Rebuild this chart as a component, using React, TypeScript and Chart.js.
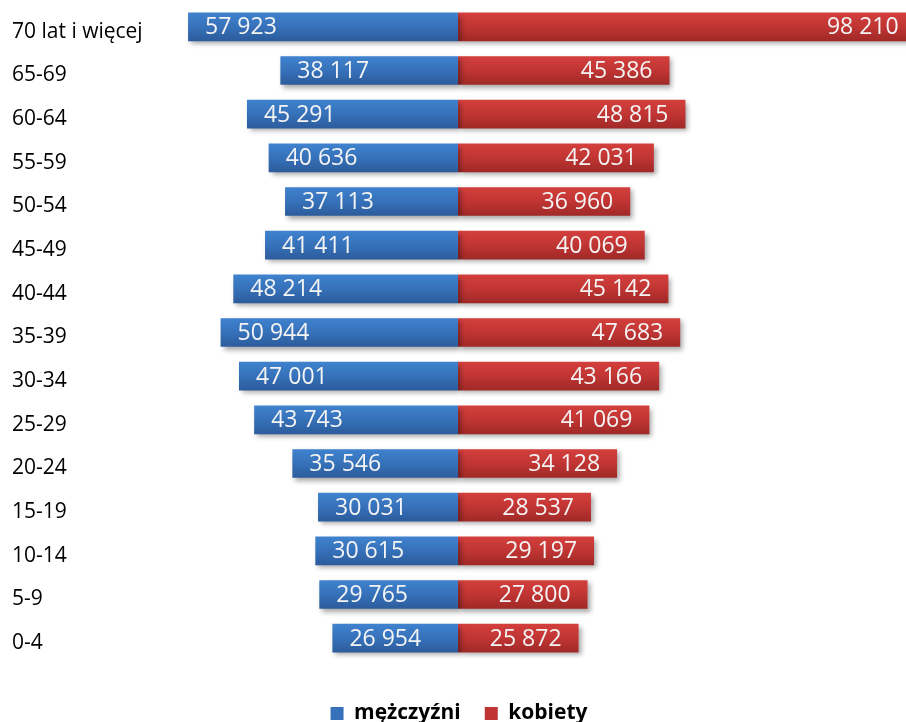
import React, { useEffect, useRef } from "react";
import { Chart, registerables } from "chart.js";

Chart.register(...registerables);

const ageGroups = [
  "70 lat i więcej", "65-69", "60-64", "55-59", "50-54", "45-49", "40-44",
  "35-39", "30-34", "25-29", "20-24", "15-19", "10-14", "5-9", "0-4",
];
const men = [57923, 38117, 45291, 40636, 37113, 41411, 48214, 50944, 47001, 43743, 35546, 30031, 30615, 29765, 26954];
const women = [98210, 45386, 48815, 42031, 36960, 40069, 45142, 47683, 43166, 41069, 34128, 28537, 29197, 27800, 25872];
const seriesNames = ["mężczyźni", "kobiety"];

const X_MIN = -66094;
const X_MAX = 96137;

const BLUE_TOP = "#3f82ce";
const BLUE_BOT = "#2c5c9c";
const RED_TOP = "#d33f3c";
const RED_BOT = "#a02927";

const fmt = (v: number) => {
  const s = String(Math.round(Math.abs(v)));
  return s.replace(/\B(?=(\d{3})+(?!\d))/g, " ");
};

const gradientFor = (top: string, bot: string, solid: string) => (c: any) => {
  const chart = c.chart;
  const y = chart.scales && chart.scales.y;
  if (!y || c.dataIndex === undefined || !chart.chartArea) return solid;
  const cy = y.getPixelForValue(c.dataIndex);
  const g = chart.ctx.createLinearGradient(0, cy - 14, 0, cy + 14);
  g.addColorStop(0, top);
  g.addColorStop(0.5, solid);
  g.addColorStop(1, bot);
  return g;
};

const barPlugin = {
  id: "barDecor",
  beforeDatasetsDraw(chart: any) {
    const ctx = chart.ctx;
    ctx.save();
    ctx.shadowColor = "rgba(0,0,0,0.35)";
    ctx.shadowBlur = 5;
    ctx.shadowOffsetX = 3;
    ctx.shadowOffsetY = 3;
  },
  afterDatasetsDraw(chart: any) {
    const ctx = chart.ctx;
    ctx.restore();
    ctx.save();
    ctx.font = '23px "Open Sans"';
    ctx.fillStyle = "#f4f4f4";
    ctx.textBaseline = "middle";
    chart.data.datasets.forEach((ds: any, di: number) => {
      const meta = chart.getDatasetMeta(di);
      meta.data.forEach((el: any, i: number) => {
        const v = ds.data[i];
        const text = fmt(v);
        if (v < 0) {
          ctx.textAlign = "left";
          ctx.fillText(text, el.x + 17, el.y + 1);
        } else {
          ctx.textAlign = "right";
          ctx.fillText(text, el.x - 17, el.y + 1);
        }
      });
    });
    ctx.restore();
  },
};

export default function App() {
  const ref = useRef<HTMLCanvasElement | null>(null);
  useEffect(() => {
    if (!ref.current) return;
    const chart = new Chart(ref.current, {
      type: "bar",
      data: {
        labels: ageGroups,
        datasets: [
          {
            label: seriesNames[0],
            data: men.map((v) => -v),
            backgroundColor: gradientFor(BLUE_TOP, BLUE_BOT, "#3671b9"),
            borderWidth: 0,
            barPercentage: 0.655,
            categoryPercentage: 1,
          },
          {
            label: seriesNames[1],
            data: women,
            backgroundColor: gradientFor(RED_TOP, RED_BOT, "#c03533"),
            borderWidth: 0,
            barPercentage: 0.655,
            categoryPercentage: 1,
          },
        ],
      },
      options: {
        indexAxis: "y",
        responsive: false,
        animation: false,
        layout: { padding: { top: 5, left: 12, right: 0, bottom: -12 } },
        scales: {
          x: {
            stacked: true,
            min: X_MIN,
            max: X_MAX,
            ticks: { display: false },
            grid: { display: false },
            border: { display: false },
            afterFit: (s: any) => { s.height = 19; },
          },
          y: {
            stacked: true,
            grid: { display: false },
            border: { display: false },
            ticks: {
              crossAlign: "far",
              color: "#000",
              labelOffset: 5,
              font: { family: '"Open Sans"', size: 21 },
            },
            afterFit: (s: any) => {
              s.width = 138;
              s.paddingTop = 0;
              s.paddingBottom = 0;
            },
          },
        },
        plugins: {
          tooltip: { enabled: false },
          legend: {
            position: "bottom",
            labels: {
              boxWidth: 13,
              boxHeight: 13,
              padding: 24,
              color: "#000",
              font: { family: '"Open Sans"', size: 21, weight: "bold" },
              generateLabels: (chart: any) =>
                chart.data.datasets.map((ds: any, i: number) => ({
                  text: ds.label,
                  fillStyle: i === 0 ? "#3671b9" : "#c03533",
                  strokeStyle: "rgba(0,0,0,0)",
                  lineWidth: 0,
                  fontColor: "#000",
                  datasetIndex: i,
                  hidden: false,
                })),
            },
          },
        },
      },
      plugins: [barPlugin],
    } as any);
    return () => chart.destroy();
  }, []);
  return (
    <div style={{ position: "absolute", left: 0, top: 0, width: 906, height: 722, background: "#fff" }}>
      <canvas ref={ref} width={906} height={722} style={{ display: "block" }} />
    </div>
  );
}
